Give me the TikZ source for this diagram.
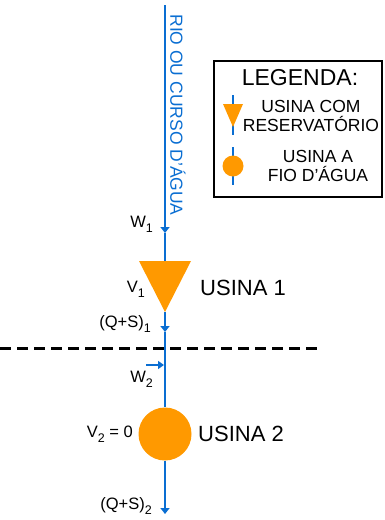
\documentclass[tikz,border=0pt]{standalone}
\usepackage{fontspec}
\setmainfont{Liberation Sans}
\usetikzlibrary{arrows.meta}
\definecolor{rioazul}{RGB}{10,110,210}
\definecolor{usinalaranja}{RGB}{255,153,0}
\newcommand{\ind}[1]{\raisebox{-0.55ex}{\fontsize{12.5}{12.5}\selectfont#1}}

\begin{document}
\begin{tikzpicture}[x=1pt,y=-1pt,
    rio/.style={rioazul,line width=2.8pt},
    seta/.style={-{Triangle[length=6pt,width=9pt]}},
    rotulo/.style={inner sep=0pt,font=\fontsize{16.5}{18}\selectfont},
    usina/.style={inner sep=0pt,font=\fontsize{22}{24}\selectfont},
    legenda/.style={inner sep=0pt,align=center,font=\fontsize{17.5}{19.5}\selectfont}]
    \useasboundingbox (0,0) rectangle (384,520);

    % rio principal
    \coordinate (nascente) at (165,5);
    \coordinate (w1) at (165,233);
    \coordinate (u1topo) at (165,262);
    \coordinate (u1apice) at (165,312);
    \coordinate (qs1) at (165,332);
    \coordinate (foz) at (165,514);
    \node[circle,fill=usinalaranja,minimum size=53pt,inner sep=0pt] (usina2) at (165,434) {};
    \draw[rio,seta] (nascente) -- (w1);
    \draw[rio] (w1) -- (u1topo);
    \draw[rio,seta] (u1apice) -- (qs1);
    \draw[rio] (qs1) -- (usina2.north);
    \draw[rio,seta] (usina2.south) -- (foz);
    \fill[usinalaranja] (139,261) -- (191,261) -- (u1apice) -- cycle;
    \node[rotate=-90,text=rioazul,inner sep=0pt,font=\fontsize{17.5}{19}\selectfont] (nomerio) at (178,115) {RIO OU CURSO D'ÁGUA};

    % divisa entre as usinas
    \coordinate (divisaE) at (0,348);
    \coordinate (divisaD) at (320,348);
    \draw[line width=3pt,dash pattern=on 11pt off 6pt] (divisaE) -- (divisaD);

    % afluente W2
    \coordinate (w2ini) at (146,365);
    \coordinate (w2fim) at (164,365);
    \draw[rio,line width=2.2pt,-{Triangle[length=6pt,width=8pt]}] (w2ini) -- (w2fim);

    % rotulos
    \node[rotulo,anchor=east] (lw1) at (153,224) {W\ind{1}};
    \node[rotulo,anchor=east] (lv1) at (145,289) {V\ind{1}};
    \node[rotulo,anchor=east] (lqs1) at (151,324) {(Q+S)\ind{1}};
    \node[rotulo,anchor=east] (lw2) at (153,379) {W\ind{2}};
    \node[rotulo,anchor=east] (lv2) at (133,434) {V\ind{2} = 0};
    \node[rotulo,anchor=east] (lqs2) at (152,506) {(Q+S)\ind{2}};
    \node[usina,anchor=west] (lu1) at (200,288) {USINA 1};
    \node[usina,anchor=west] (lu2) at (198,434) {USINA 2};

    % legenda
    \draw[line width=1.2pt] (214,61) rectangle (382,197);
    \node[usina,font=\fontsize{23}{25}\selectfont] (tlegenda) at (300,78) {LEGENDA:};
    \coordinate (leg1topo) at (233,95);
    \coordinate (leg1base) at (233,135);
    \draw[rio] (leg1topo) -- (leg1base);
    \fill[usinalaranja] (223,104) -- (243,104) -- (233,127) -- cycle;
    \node[legenda] (tleg1) at (311,116) {USINA COM\\RESERVATÓRIO};
    \coordinate (leg2topo) at (233,147);
    \coordinate (leg2base) at (233,185);
    \draw[rio] (leg2topo) -- (leg2base);
    \node[circle,fill=usinalaranja,minimum size=21pt,inner sep=0pt] (leg2usina) at (233,166) {};
    \node[legenda] (tleg2) at (318,166) {USINA A\\FIO D’ÁGUA};
\end{tikzpicture}
\end{document}
